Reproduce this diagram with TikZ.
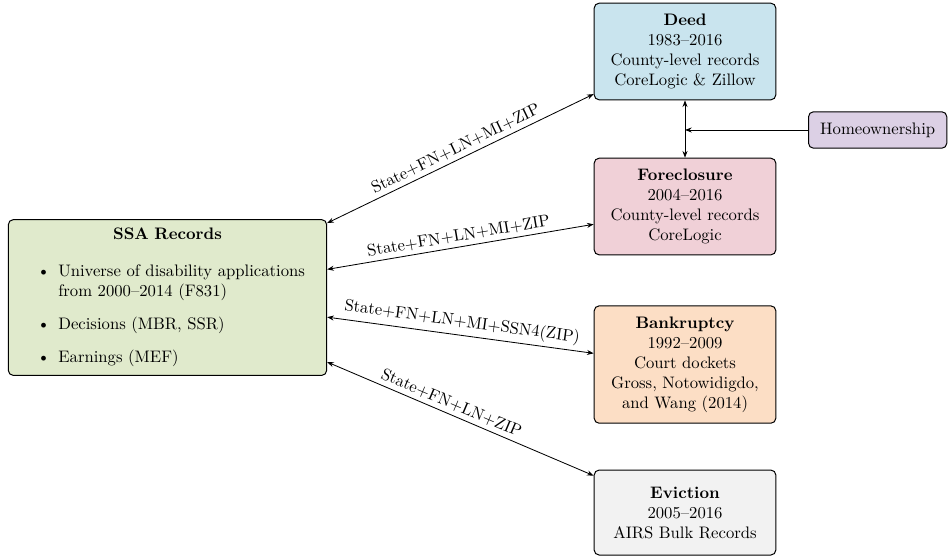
\documentclass[tikz,border=0pt]{standalone}
\usepackage{tikz}
\usetikzlibrary{shapes,arrows,arrows.meta}

\definecolor{deedcol}{HTML}{C9E4EE}
\definecolor{forecol}{HTML}{F0D0D7}
\definecolor{bankcol}{HTML}{FCDEC5}
\definecolor{eviccol}{HTML}{F2F2F2}
\definecolor{ssacol}{HTML}{E0EACC}
\definecolor{homecol}{HTML}{DCD0E5}

\begin{document}
\begin{tikzpicture}[scale=1.0000]
	\tikzstyle{every node}=[scale=1.0000]
	\tikzstyle{srcbox}=[draw, rounded corners=3pt, line width=0.6pt, align=center, text width=95pt, inner xsep=7pt, inner ysep=6.5pt, minimum height=51pt]
	\tikzstyle{link}=[<->, >={Stealth[length=4pt,width=3pt]}, line width=0.5pt]
	\tikzstyle{linklabel}=[sloped, above, inner sep=2.5pt]

	\useasboundingbox (0.0000,0.0000) rectangle (19.9910,-11.7460);

	%% data sources
	\node [srcbox, fill=deedcol] (deed) at (14.4450,-1.0860) {\textbf{Deed}\\1983--2016\\County-level records\\CoreLogic \& Zillow};
	\node [srcbox, fill=forecol] (fore) at (14.4450,-4.3550) {\textbf{Foreclosure}\\2004--2016\\County-level records\\CoreLogic};
	\node [srcbox, fill=bankcol] (bank) at (14.4450,-7.6870) {\textbf{Bankruptcy}\\1992--2009\\Court dockets\\Gross, Notowidigdo,\\and Wang (2014)};
	\node [srcbox, fill=eviccol] (evic) at (14.4450,-10.8080) {\textbf{Eviction}\\2005--2016\\AIRS Bulk Records};
	\node [draw, rounded corners=3pt, line width=0.6pt, fill=homecol, anchor=west, inner xsep=7pt, inner ysep=6.5pt] (home) at (17.0390,-2.7410) {Homeownership};

	%% SSA
	\node [draw, rounded corners=3pt, line width=0.6pt, fill=ssacol, text width=181pt, inner xsep=5pt, inner ysep=5pt] (ssa) at (3.5320,-6.2740) {%
		\centering\textbf{SSA Records}\par
		\raggedright
		\begin{itemize}
			\item Universe of disability applications from 2000--2014 (F831)
			\item Decisions (MBR, SSR)
			\item Earnings (MEF)
		\end{itemize}};

	%% links
	\draw [link] (ssa.25) -- node [linklabel] {State+FN+LN+MI+ZIP} (deed.205);
	\draw [link] (ssa.10) -- node [linklabel] {State+FN+LN+MI+ZIP} (fore.191);
	\draw [link] (ssa.-7) -- node [linklabel] {State+FN+LN+MI+SSN4(ZIP)} (bank.173);
	\draw [link] (ssa.-22) -- node [linklabel, pos=0.45] {State+FN+LN+ZIP} (evic.158);
	\draw [link] (deed.south) -- (fore.north);
	\draw [->, >={Stealth[length=4pt,width=3pt]}, line width=0.5pt] (home.west) -- (home.west -| deed.south);

\end{tikzpicture}
\end{document}
